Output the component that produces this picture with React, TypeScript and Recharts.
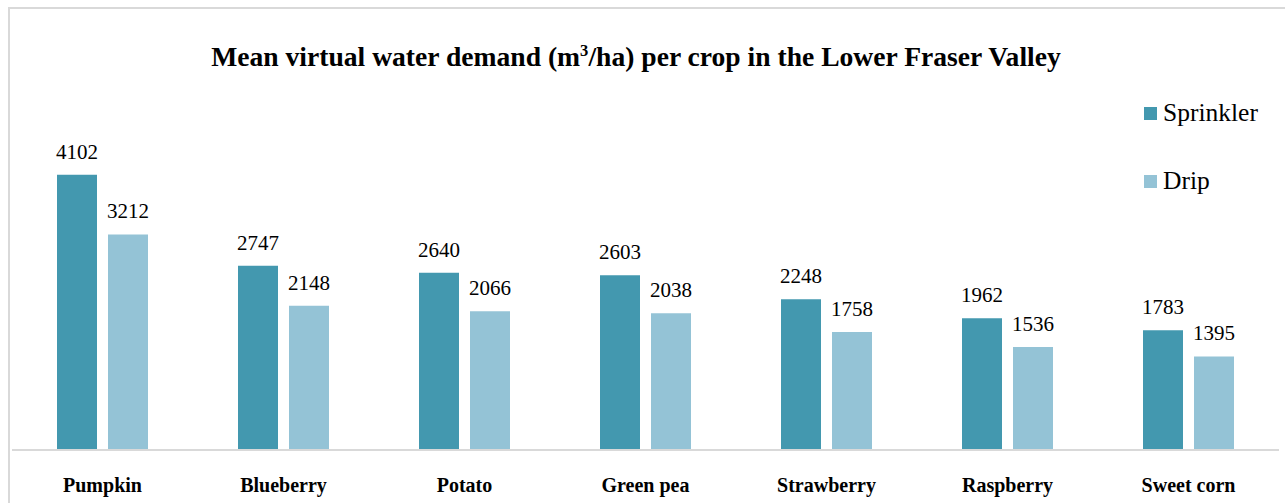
import React from 'react';
import { BarChart, Bar, XAxis, YAxis, LabelList, Legend } from 'recharts';

const crops = ['Pumpkin', 'Blueberry', 'Potato', 'Green pea', 'Strawberry', 'Raspberry', 'Sweet corn'];
const sprinkler = [4102, 2747, 2640, 2603, 2248, 1962, 1783];
const drip = [3212, 2148, 2066, 2038, 1758, 1536, 1395];
const seriesNames = ['Sprinkler', 'Drip'];

const data = crops.map((crop, i) => ({ crop, sprinkler: sprinkler[i], drip: drip[i] }));

const SERIF = '"Liberation Serif", "Times New Roman", serif';
const SPRINKLER = '#4398AF';
const DRIP = '#94C3D6';

// Legend entries listed in series order: Sprinkler on top, Drip below.
const LegendBox = (props: any) => {
  const items = [...(props.payload || [])].sort(
    (a: any, b: any) => seriesNames.indexOf(a.value) - seriesNames.indexOf(b.value)
  );
  return (
    <div style={{ fontFamily: SERIF }}>
      {items.map((it: any) => (
        <div
          key={it.value}
          style={{ display: 'flex', alignItems: 'center', height: 30, marginBottom: 38 }}
        >
          <span style={{ width: 13, height: 13, background: it.color, display: 'inline-block', marginRight: 6 }} />
          <span style={{ fontSize: 25.5, color: '#000' }}>{it.value}</span>
        </div>
      ))}
    </div>
  );
};

export default function App() {
  return (
    <div style={{ position: 'absolute', left: 0, top: 0, width: 1285, height: 503, overflow: 'hidden', background: '#fff' }}>
      <div
        style={{
          position: 'absolute', left: 8, top: 7, width: 1300, height: 520,
          borderTop: '2px solid #d9d9d9', borderLeft: '2px solid #d9d9d9',
        }}
      />
      <div
        style={{
          position: 'absolute', left: 0, width: 1272, top: 43, textAlign: 'center',
          fontFamily: SERIF, fontWeight: 'bold', fontSize: 27.6, lineHeight: '27px', color: '#000',
        }}
      >
        Mean virtual water demand (m<sup style={{ fontSize: '0.6em', lineHeight: 0 }}>3</sup>/ha) per crop in the Lower Fraser Valley
      </div>
      <div style={{ position: 'absolute', left: 0, top: 0 }}>
        <BarChart
          width={1285}
          height={503}
          data={data}
          margin={{ top: 148, right: 6, bottom: 0, left: 12 }}
          barGap={11}
          barSize={40}
        >
          <XAxis
            dataKey="crop"
            height={53}
            tickLine={false}
            tickMargin={22}
            axisLine={{ stroke: '#d9d9d9', strokeWidth: 2 }}
            tick={{ fill: '#000', fontFamily: SERIF, fontWeight: 'bold', fontSize: 20 }}
            interval={0}
          />
          <YAxis hide domain={[0, 4500]} />
          <Legend
            layout="horizontal"
            align="center"
            verticalAlign="middle"
            content={<LegendBox />}
            wrapperStyle={{ left: 1144, top: 98, width: 140 }}
          />
          <Bar dataKey="sprinkler" name={seriesNames[0]} fill={SPRINKLER} isAnimationActive={false}>
            <LabelList dataKey="sprinkler" position="top" offset={16} fill="#000" fontFamily={SERIF} fontSize={21} />
          </Bar>
          <Bar dataKey="drip" name={seriesNames[1]} fill={DRIP} isAnimationActive={false}>
            <LabelList dataKey="drip" position="top" offset={16} fill="#000" fontFamily={SERIF} fontSize={21} />
          </Bar>
        </BarChart>
      </div>
    </div>
  );
}
